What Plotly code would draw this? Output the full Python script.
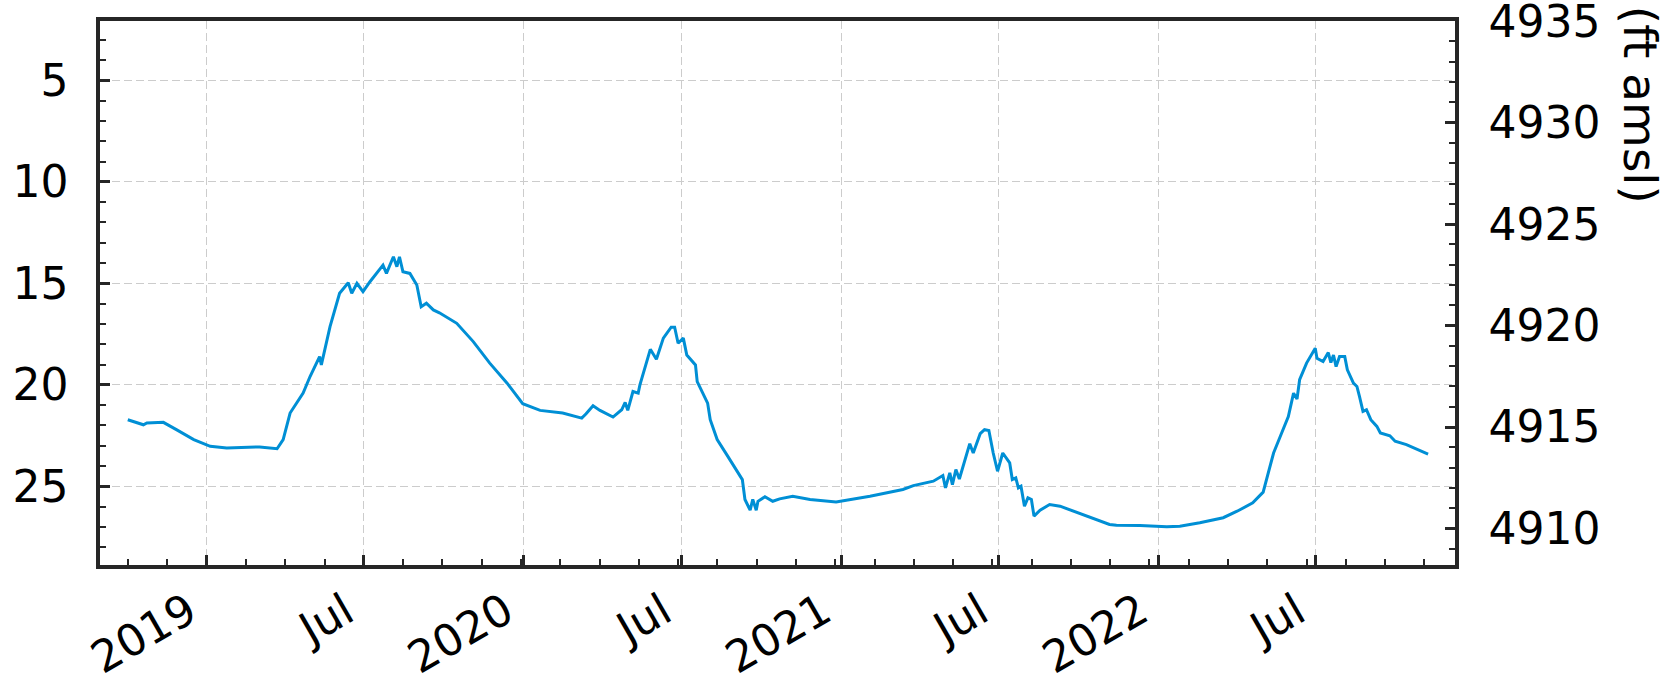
import plotly.graph_objects as go

# depth to water (ft)
dates = [
    "2018-10-02", "2018-10-20", "2018-10-24", "2018-11-12", "2018-11-27", "2018-12-17",
    "2019-01-05", "2019-01-24", "2019-03-03", "2019-03-23", "2019-03-30", "2019-04-07",
    "2019-04-22", "2019-04-30", "2019-05-11", "2019-05-13", "2019-05-23", "2019-06-03",
    "2019-06-13", "2019-06-17", "2019-06-23", "2019-06-30", "2019-07-08", "2019-07-16",
    "2019-07-23", "2019-07-27", "2019-08-04", "2019-08-08", "2019-08-11", "2019-08-15",
    "2019-08-23", "2019-08-31", "2019-09-05", "2019-09-11", "2019-09-19", "2019-09-26",
    "2019-10-08", "2019-10-16", "2019-11-04", "2019-11-23", "2019-12-13", "2019-12-31",
    "2020-01-20", "2020-02-15", "2020-03-08", "2020-03-13", "2020-03-21", "2020-03-29",
    "2020-04-13", "2020-04-23", "2020-04-27", "2020-04-30", "2020-05-06", "2020-05-12",
    "2020-05-14", "2020-05-26", "2020-06-02", "2020-06-10", "2020-06-19", "2020-06-23",
    "2020-06-27", "2020-07-03", "2020-07-07", "2020-07-17", "2020-07-19", "2020-07-31",
    "2020-08-03", "2020-08-11", "2020-08-22", "2020-09-09", "2020-09-12", "2020-09-18",
    "2020-09-21", "2020-09-25", "2020-09-27", "2020-10-05", "2020-10-14", "2020-10-22",
    "2020-11-06", "2020-11-26", "2020-12-26", "2021-02-03", "2021-03-13", "2021-03-25",
    "2021-04-17", "2021-04-28", "2021-05-01", "2021-05-06", "2021-05-09", "2021-05-13",
    "2021-05-17", "2021-05-25", "2021-05-29", "2021-06-02", "2021-06-10", "2021-06-15",
    "2021-06-20", "2021-06-25", "2021-06-30", "2021-07-06", "2021-07-14", "2021-07-17",
    "2021-07-21", "2021-07-24", "2021-07-27", "2021-07-31", "2021-08-04", "2021-08-08",
    "2021-08-11", "2021-08-18", "2021-08-29", "2021-09-10", "2021-10-03", "2021-10-22",
    "2021-11-06", "2021-11-14", "2021-12-11", "2022-01-11", "2022-01-26", "2022-02-18",
    "2022-03-17", "2022-04-02", "2022-04-20", "2022-05-02", "2022-05-08", "2022-05-14",
    "2022-05-24", "2022-05-31", "2022-06-06", "2022-06-10", "2022-06-13", "2022-06-21",
    "2022-07-01", "2022-07-03", "2022-07-10", "2022-07-16", "2022-07-19", "2022-07-22",
    "2022-07-25", "2022-07-29", "2022-08-04", "2022-08-07", "2022-08-14", "2022-08-18",
    "2022-08-21", "2022-08-25", "2022-08-29", "2022-09-03", "2022-09-10", "2022-09-14",
    "2022-09-25", "2022-10-01", "2022-10-14", "2022-11-08",
]
depth_ft = [
    21.72, 21.97, 21.88, 21.85, 22.21, 22.70,
    23.03, 23.11, 23.06, 23.15, 22.70, 21.39,
    20.41, 19.59, 18.61, 19.02, 17.13, 15.49,
    14.97, 15.49, 15.00, 15.41, 14.92, 14.51,
    14.10, 14.51, 13.69, 14.18, 13.69, 14.43,
    14.51, 15.08, 16.15, 15.98, 16.31, 16.45,
    16.77, 16.97, 17.87, 18.93, 19.92, 20.93,
    21.26, 21.39, 21.64, 21.43, 21.03, 21.26,
    21.59, 21.23, 20.87, 21.26, 20.33, 20.41,
    20.00, 18.25, 18.74, 17.70, 17.16, 17.16,
    17.95, 17.70, 18.53, 19.02, 19.84, 20.90,
    21.72, 22.70, 23.44, 24.67, 25.65, 26.18,
    25.65, 26.18, 25.74, 25.52, 25.74, 25.62,
    25.49, 25.65, 25.77, 25.49, 25.16, 24.97,
    24.75, 24.47, 25.08, 24.34, 24.92, 24.18,
    24.64, 23.53, 22.90, 23.36, 22.41, 22.21,
    22.25, 23.36, 24.26, 23.36, 23.85, 24.67,
    24.59, 25.08, 25.00, 25.98, 25.57, 25.65,
    26.47, 26.18, 25.90, 25.98, 26.34, 26.64,
    26.88, 26.92, 26.93, 27.00, 26.97, 26.80,
    26.55, 26.23, 25.82, 25.29, 24.34, 23.36,
    22.30, 21.56, 20.41, 20.70, 19.75, 18.93,
    18.20, 18.69, 18.85, 18.41, 18.90, 18.53,
    19.10, 18.61, 18.61, 19.26, 19.92, 20.08,
    20.58, 21.31, 21.23, 21.72, 22.05, 22.37,
    22.51, 22.78, 22.95, 23.41,
]

# elevation of zero depth (ft amsl)
datum_ft = 4937.08

tick_dates = ["2019-01-01", "2019-07-01", "2020-01-01", "2020-07-01",
              "2021-01-01", "2021-07-01", "2022-01-01", "2022-07-01"]
tick_text = ["2019", "Jul", "2020", "Jul", "2021", "Jul", "2022", "Jul"]

axis_col = '#262626'
font = dict(family='DejaVu Sans', size=44, color='black')
grid = dict(showgrid=True, gridcolor='#cccccc', gridwidth=1, griddash='8px,4px')
tick_style = dict(ticks='inside', ticklen=10, tickwidth=3, tickcolor=axis_col,
                  tickfont=font, zeroline=False, automargin=False,
                  ticklabeloverflow='allow',
                  showline=True, linewidth=3.5, linecolor=axis_col)
minor_style = dict(ticks='inside', ticklen=6, tickwidth=1.5, tickcolor=axis_col,
                   showgrid=False)

fig = go.Figure()
fig.add_trace(go.Scatter(x=dates, y=depth_ft, mode='lines',
                         line=dict(color='#008fd5', width=3),
                         showlegend=False))
# invisible copy so the elevation axis is drawn
fig.add_trace(go.Scatter(x=dates, y=[datum_ft - d for d in depth_ft],
                         yaxis='y2', mode='lines', line=dict(width=0),
                         opacity=0, hoverinfo='skip', showlegend=False))

fig.update_layout(
    template='none',
    width=1668, height=677,
    margin=dict(l=100, r=213, t=21, b=112),
    plot_bgcolor='white', paper_bgcolor='white',
    font=font,
    xaxis=dict(range=["2018-08-31", "2022-12-09"],
               tickmode='array', tickvals=tick_dates, ticktext=tick_text,
               tickangle=-30, ticklabelshift=-18,
               mirror=True, **tick_style, **grid,
               minor=dict(tick0="2019-01-01", dtick=45.25 * 86400000, **minor_style)),
    yaxis=dict(range=[28.88, 2.07], tick0=0, dtick=5,
               ticklabelstandoff=19, mirror=True, **tick_style, **grid,
               minor=dict(dtick=1, **minor_style)),
    yaxis2=dict(overlaying='y', side='right',
                range=[datum_ft - 28.88, datum_ft - 2.07],
                tick0=4910, dtick=5, ticklabelstandoff=21,
                showgrid=False, **tick_style,
                minor=dict(dtick=1, **minor_style)),
)

fig.add_annotation(text="(ft amsl)", xref='paper', yref='paper',
                   x=1.137, y=0.8465, xanchor='center', yanchor='middle',
                   textangle=90, showarrow=False,
                   font=dict(family='DejaVu Sans', size=47, color='black'))

# drop the default page margin so the figure sits at the window corner
fig.write_html("out.html", config={'displayModeBar': False},
               post_script="document.body.style.margin = '0';")
